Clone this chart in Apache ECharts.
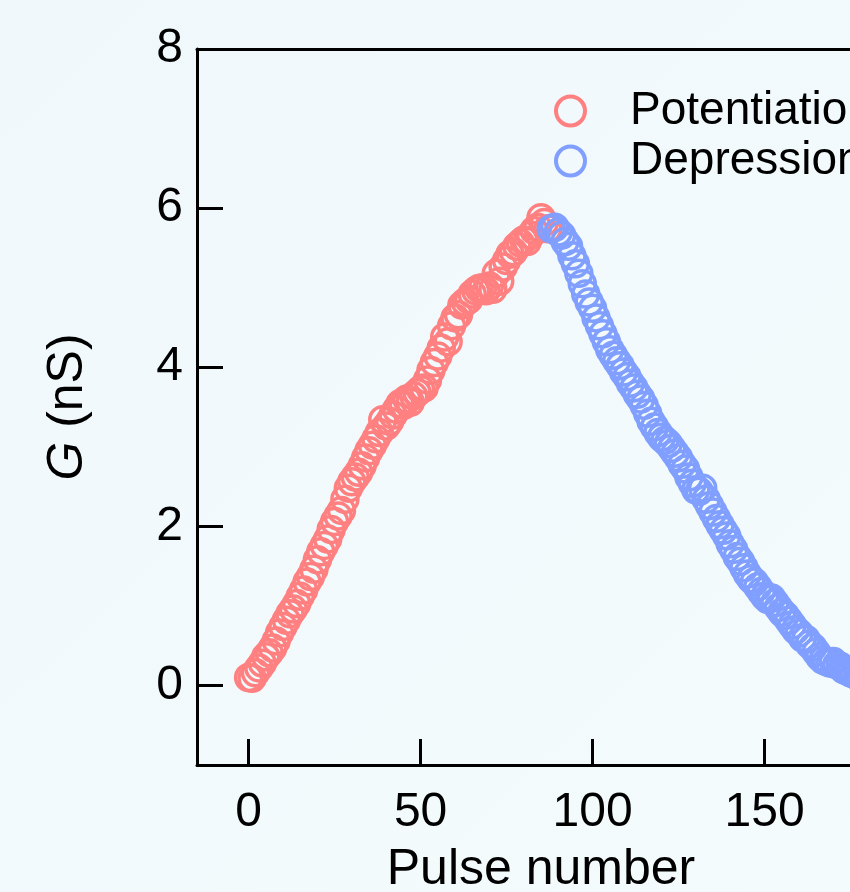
<!DOCTYPE html>
<html>
<head>
<meta charset="utf-8">
<script src="https://cdn.jsdelivr.net/npm/echarts@6/dist/echarts.min.js"></script>
<style>
  html, body { margin: 0; padding: 0; }
  #root { width: 850px; height: 892px; }
</style>
</head>
<body>
<div id="root"></div>
<script>
// pulse numbers
let potPulse = [];
for (let i = 0; i <= 87; i++) potPulse.push(i);
let depPulse = [];
for (let i = 88; i <= 179; i++) depPulse.push(i);

// conductance G (nS)
let potG = [
  0.10,0.09,0.16,0.22,0.28,0.36,0.41,0.47,0.56,0.66,
  0.74,0.82,0.90,0.96,1.03,1.12,1.20,1.30,1.37,1.46,
  1.58,1.68,1.76,1.84,1.96,2.06,2.13,2.20,2.34,2.48,
  2.56,2.62,2.68,2.76,2.86,2.95,3.02,3.10,3.18,3.34,
  3.26,3.32,3.40,3.47,3.54,3.52,3.60,3.56,3.64,3.68,
  3.72,3.74,3.84,3.96,4.06,4.14,4.24,4.38,4.32,4.52,
  4.62,4.66,4.78,4.82,4.85,4.92,4.96,4.99,5.00,4.96,
  5.02,4.98,5.18,5.08,5.26,5.34,5.42,5.45,5.52,5.56,
  5.60,5.58,5.66,5.72,5.76,5.88,5.82,5.74
];
let depG = [
  5.74,5.76,5.70,5.66,5.58,5.52,5.40,5.30,5.18,5.05,
  4.92,4.82,4.74,4.62,4.52,4.42,4.32,4.22,4.15,4.08,
  4.02,3.94,3.88,3.80,3.74,3.66,3.60,3.52,3.42,3.32,
  3.25,3.18,3.12,3.08,3.04,2.98,2.92,2.86,2.78,2.72,
  2.62,2.54,2.46,2.44,2.48,2.34,2.26,2.18,2.10,2.02,
  1.95,1.88,1.78,1.71,1.62,1.56,1.48,1.40,1.34,1.30,
  1.24,1.18,1.12,1.08,1.10,1.04,0.98,0.92,0.88,0.82,
  0.76,0.70,0.66,0.60,0.58,0.52,0.48,0.42,0.36,0.32,
  0.30,0.28,0.30,0.26,0.24,0.20,0.18,0.16,0.14,0.12,
  0.10,0.09
];

let xTicks = [0, 50, 100, 150];
let yTicks = [0, 2, 4, 6, 8];

let potColor = '#FF8080';
let depColor = '#809FFF';
let font = 'Liberation Sans';

let root = document.getElementById('root');
let myCharts = echarts.init(root);

function pairs(xs, ys) {
  return xs.map((x, i) => [x, ys[i]]);
}

let option = {
  backgroundColor: {
    type: 'linear', x: 0, y: 0, x2: 1, y2: 1,
    colorStops: [{offset: 0, color: '#f1f8fc'}, {offset: 1, color: '#f3fbfc'}]
  },
  textStyle: {fontFamily: font},
  animation: false,
  grid: {left: 197, top: 49, right: -35, bottom: 127, outerBoundsMode: 'none', containLabel: false},
  legend: {
    orient: 'vertical',
    left: 549,
    top: 83,
    itemWidth: 29,
    itemHeight: 29,
    itemGap: 4,
    itemStyle: {borderWidth: 4},
    textStyle: {fontFamily: font, fontSize: 46, color: '#000', padding: [0, 0, 0, 40]},
    data: ['Potentiation', 'Depression']
  },
  xAxis: [{
    type: 'value',
    min: -15,
    max: 185,
    name: 'Pulse number',
    nameLocation: 'middle',
    nameGap: 80,
    nameTextStyle: {fontFamily: font, fontSize: 50, color: '#000'},
    axisLine: {onZero: false, lineStyle: {color: '#000', width: 3}},
    axisTick: {inside: true, length: 26, customValues: xTicks, lineStyle: {color: '#000', width: 3}},
    axisLabel: {customValues: xTicks, fontFamily: font, fontSize: 48, color: '#000', margin: 24},
    splitLine: {show: false}
  }, {
    type: 'value',
    position: 'top',
    min: -15,
    max: 185,
    axisLine: {show: true, onZero: false, lineStyle: {color: '#000', width: 3}},
    axisTick: {show: false},
    axisLabel: {show: false},
    splitLine: {show: false}
  }],
  yAxis: [{
    type: 'value',
    min: -1,
    max: 8,
    name: '{i|G} (nS)',
    nameLocation: 'middle',
    nameGap: 104,
    nameRotate: 90,
    nameTextStyle: {
      fontFamily: font, fontSize: 50, color: '#000',
      rich: {i: {fontFamily: font, fontSize: 50, fontStyle: 'italic', color: '#000'}}
    },
    axisLine: {onZero: false, lineStyle: {color: '#000', width: 3}},
    axisTick: {inside: true, length: 26, customValues: yTicks, lineStyle: {color: '#000', width: 3}},
    axisLabel: {customValues: yTicks, fontFamily: font, fontSize: 48, color: '#000', margin: 14},
    splitLine: {show: false}
  }],
  series: [
    {
      name: 'Potentiation',
      type: 'scatter',
      symbol: 'circle',
      symbolSize: 26,
      itemStyle: {color: 'transparent', borderColor: potColor, borderWidth: 3.5, opacity: 1},
      data: pairs(potPulse, potG)
    },
    {
      name: 'Depression',
      type: 'scatter',
      symbol: 'circle',
      symbolSize: 26,
      itemStyle: {color: 'transparent', borderColor: depColor, borderWidth: 3.5, opacity: 1},
      data: pairs(depPulse, depG)
    }
  ]
};
myCharts.setOption(option);
</script>
</body>
</html>
